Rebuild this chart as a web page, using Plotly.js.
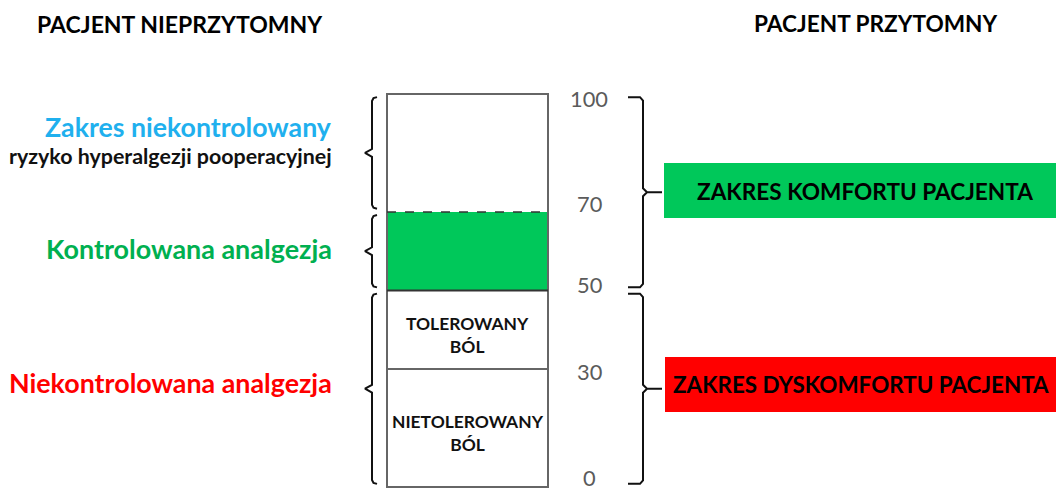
<!DOCTYPE html>
<html><head><meta charset="utf-8">
<script src="https://cdn.plot.ly/plotly-3.0.1.min.js"></script>
<style>html,body{margin:0;padding:0;background:#fff}</style>
</head><body><div id="chart" style="width:1056px;height:491px"></div>
<script>
// ---- data ----
const scaleTicks = [0, 30, 50, 70, 100];
const tickLabels = ['0', '30', '50', '70', '100'];
const bandLow = [0, 30, 50, 70];
const bandHigh = [30, 50, 70, 100];
const bandNames = ['NIETOLEROWANY<br>BÓL', 'TOLEROWANY<br>BÓL', '', ''];
const leftBraceLow = [70, 50, 0];
const leftBraceHigh = [100, 70, 50];
const rightBraceLow = [50, 0];
const rightBraceHigh = [100, 50];

// ---- styles / layout constants ----
const FONT = 'Lato';
const bandFill = ['#ffffff', '#ffffff', '#00C85A', '#ffffff'];
const W = 1056, H = 491;
const barX0 = 387, barX1 = 548, barCx = (barX0 + barX1) / 2;
const yMin = -1.02, yMax = 123.92;
const tickNudge = [9, -2, 6, 8, -4]; // px upward shift of tick labels

const ctx = document.createElement('canvas').getContext('2d');
function fit(text, w, bold) {
  ctx.font = (bold ? 'bold ' : '') + '100px ' + FONT;
  return 100 * w / ctx.measureText(text).width;
}
function py(px) { return 1 - px / H; }

const annotations = [];
function lab(text, x, baseline, size, color, bold, xanchor) {
  annotations.push({
    text: bold ? '<b>' + text + '</b>' : text,
    x: x, xref: 'x', y: py(baseline - 0.36 * size), yref: 'paper',
    xanchor: xanchor || 'center', yanchor: 'middle', showarrow: false,
    font: {family: FONT, size: size, color: color}
  });
}

// titles
lab('PACJENT NIEPRZYTOMNY', 180, 32, fit('PACJENT NIEPRZYTOMNY', 286, true), '#000', true);
lab('PACJENT PRZYTOMNY', 875, 32, fit('PACJENT PRZYTOMNY', 244, true), '#000', true);
// left labels
lab('Zakres niekontrolowany', 334, 137, fit('Zakres niekontrolowany', 286, true), '#1FB0EE', true, 'right');
lab('ryzyko hyperalgezji pooperacyjnej', 334, 164, fit('ryzyko hyperalgezji pooperacyjnej', 323, true), '#111', true, 'right');
lab('Kontrolowana analgezja', 334, 258, fit('Kontrolowana analgezja', 286, true), '#00B050', true, 'right');
lab('Niekontrolowana analgezja', 334, 393, fit('Niekontrolowana analgezja', 323, true), '#FF0000', true, 'right');
// right boxes text
lab('ZAKRES KOMFORTU PACJENTA', 865, 200, fit('ZAKRES KOMFORTU PACJENTA', 336, true), '#000', true);
lab('ZAKRES DYSKOMFORTU PACJENTA', 671, 393, fit('ZAKRES DYSKOMFORTU PACJENTA', 376, true), '#000', true, 'left');

// band labels inside the bar
const bandSize = fit('NIETOLEROWANY', 151, true);
bandNames.forEach((t, i) => {
  if (!t) return;
  annotations.push({
    text: '<b>' + t + '</b>', x: barCx, xref: 'x', y: (bandLow[i] + bandHigh[i]) / 2, yref: 'y',
    yshift: -5, showarrow: false, align: 'center',
    font: {family: FONT, size: bandSize, color: '#111'}
  });
});

// scale tick labels
const tickSize = fit('100', 38, false);
scaleTicks.forEach((v, i) => {
  annotations.push({
    text: tickLabels[i], x: 589, xref: 'x', y: v, yref: 'y', yshift: tickNudge[i],
    showarrow: false, font: {family: FONT, size: tickSize, color: '#5b5b5b'}
  });
});

// bar bands
const traces = bandLow.map((lo, i) => ({
  type: 'bar', x: [barCx], y: [bandHigh[i] - lo], base: [lo], width: [barX1 - barX0],
  marker: {color: bandFill[i], line: {width: 0}}, hoverinfo: 'skip', showlegend: false
}));

// braces
const g = 0.8;
function leftBrace(lo, hi) {
  const xv = 372, xe = 377, xt = 365, t = hi - g, b = lo + g, m = (lo + hi) / 2;
  return {x: [xe, xv + 1.5, xv, xv, xt, xv, xv, xv + 1.5, xe],
          y: [t, t - 0.25, t - 1.0, m + 1.0, m, m - 1.0, b + 1.0, b + 0.25, b]};
}
function rightBrace(lo, hi) {
  const xv = 643, xe = 628, xt = 662, t = hi - g, b = lo + g, m = (lo + hi) / 2;
  return {x: [xe, xv - 3, xv, xv, xv + 4, xt, xv + 4, xv, xv, xv - 3, xe],
          y: [t, t, t - 0.9, m + 1.0, m, m, m, m - 1.0, b + 0.9, b, b]};
}
leftBraceLow.forEach((lo, i) => {
  const p = leftBrace(lo, leftBraceHigh[i]);
  traces.push({type: 'scatter', mode: 'lines', x: p.x, y: p.y, line: {color: '#111', width: 2},
    hoverinfo: 'skip', showlegend: false});
});
rightBraceLow.forEach((lo, i) => {
  const p = rightBrace(lo, rightBraceHigh[i]);
  traces.push({type: 'scatter', mode: 'lines', x: p.x, y: p.y, line: {color: '#111', width: 2},
    hoverinfo: 'skip', showlegend: false});
});

const shapes = [
  // right boxes
  {type: 'rect', xref: 'x', yref: 'paper', x0: 664, x1: 1070, y0: py(218), y1: py(163),
   fillcolor: '#00C85A', line: {width: 0}, layer: 'below'},
  {type: 'rect', xref: 'x', yref: 'paper', x0: 665, x1: 1070, y0: py(412), y1: py(357),
   fillcolor: '#FF0000', line: {width: 0}, layer: 'below'},
  // bar outline and dividers
  {type: 'rect', xref: 'x', yref: 'y', x0: barX0, x1: barX1, y0: scaleTicks[0], y1: scaleTicks[4],
   line: {color: '#666', width: 2}, layer: 'above'},
  {type: 'line', xref: 'x', yref: 'y', x0: barX0, x1: barX1, y0: bandLow[1], y1: bandLow[1],
   line: {color: '#666', width: 2}, layer: 'above'},
  {type: 'line', xref: 'x', yref: 'y', x0: barX0, x1: barX1, y0: bandLow[2], y1: bandLow[2],
   line: {color: '#333', width: 2}, layer: 'above'},
  {type: 'line', xref: 'x', yref: 'y', x0: barX0, x1: barX1, y0: bandLow[3], y1: bandLow[3],
   line: {color: '#333', width: 1.5, dash: 'dash'}, layer: 'above'}
];

const layout = {
  width: W, height: H, margin: {l: 0, r: 0, t: 0, b: 0},
  paper_bgcolor: '#fff', plot_bgcolor: '#fff', barmode: 'overlay',
  xaxis: {range: [0, W], visible: false, fixedrange: true},
  yaxis: {range: [yMin, yMax], visible: false, fixedrange: true},
  shapes: shapes, annotations: annotations, showlegend: false
};
Plotly.newPlot('chart', traces, layout, {displayModeBar: false, staticPlot: true});
</script></body></html>
